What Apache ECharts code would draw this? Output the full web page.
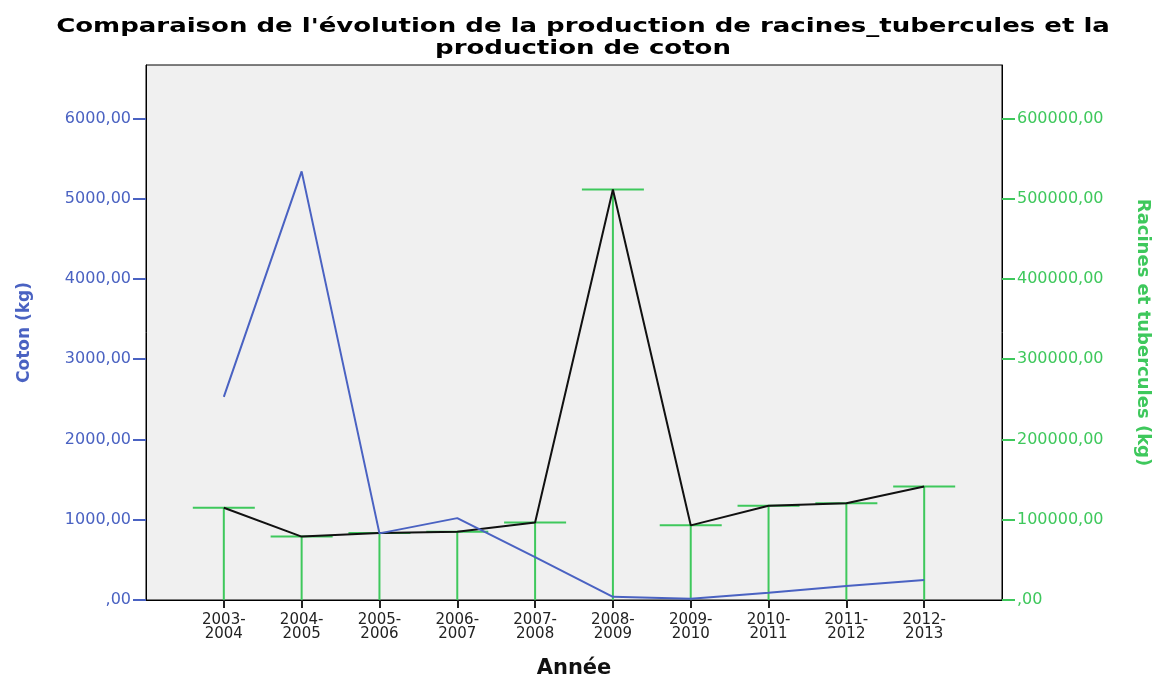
<!DOCTYPE html>
<html>
<head>
<meta charset="utf-8">
<script src="https://cdn.jsdelivr.net/npm/echarts@6/dist/echarts.min.js"></script>
<style>
  html, body { margin: 0; padding: 0; background: #fff; }
  #main { width: 1163px; height: 675px; }
</style>
</head>
<body>
<div id="main"></div>
<script>
// années (campagnes)
var annees = ['2003-\n2004', '2004-\n2005', '2005-\n2006', '2006-\n2007', '2007-\n2008',
              '2008-\n2009', '2009-\n2010', '2010-\n2011', '2011-\n2012', '2012-\n2013'];
// production de coton (kg)
var coton = [2530, 5340, 830, 1020, 535, 40, 15, 90, 175, 250];
// production de racines et tubercules (kg)
var racines = [115000, 79000, 83500, 85000, 96500, 511500, 93000, 117500, 120500, 141500];
// graduations
var ticksCoton = [0, 1000, 2000, 3000, 4000, 5000, 6000];
var ticksRacines = [0, 100000, 200000, 300000, 400000, 500000, 600000];

var bleu = '#4a62c2';
var vert = '#3ec85c';

// une catégorie vide de chaque côté pour laisser la marge du graphique
var cats = [''].concat(annees, ['']);
var dataCoton = [null].concat(coton, [null]);
var dataRacines = [null].concat(racines, [null]);

function fmt(v) {
    return (v === 0 ? '' : v) + ',00';
}

var myChart = echarts.init(document.getElementById('main'));
var option = {
    backgroundColor: '#fff',
    animation: false,
    // titre (étiré horizontalement comme dans l'original)
    graphic: [
        {
            type: 'text',
            x: 583,
            y: 16,
            scaleX: 1.3,
            style: {
                text: "Comparaison de l'évolution de la production de racines_tubercules et la\nproduction de coton",
                fontFamily: 'DejaVu Sans',
                fontWeight: 'bold',
                fontSize: 20,
                lineHeight: 22,
                fill: '#000',
                align: 'center',
                verticalAlign: 'top'
            }
        }
    ],
    grid: {
        left: 146, right: 161, top: 65, bottom: 75,
        outerBoundsMode: 'none',
        containLabel: false,
        show: true,
        backgroundColor: '#f0f0f0',
        borderColor: '#000',
        borderWidth: 1
    },
    xAxis: {
        type: 'category',
        data: cats,
        boundaryGap: false,
        name: 'Année',
        nameLocation: 'middle',
        nameGap: 58,
        nameTextStyle: { fontFamily: 'DejaVu Sans', fontWeight: 'bold', fontSize: 21, color: '#111' },
        axisLine: { lineStyle: { color: '#000', width: 1 } },
        axisTick: {
            length: 8,
            lineStyle: { color: '#222', width: 2 },
            interval: function (i) { return i > 0 && i < cats.length - 1; }
        },
        axisLabel: {
            interval: 0,
            margin: 13,
            color: '#222',
            fontFamily: 'DejaVu Sans',
            fontSize: 15,
            lineHeight: 14
        },
        splitLine: { show: false }
    },
    yAxis: [
        {
            type: 'value',
            min: 0,
            max: 6665,
            position: 'left',
            name: 'Coton (kg)',
            nameLocation: 'middle',
            nameGap: 113,
            nameRotate: 90,
            nameTextStyle: { fontFamily: 'DejaVu Sans', fontWeight: 'bold', fontSize: 17, color: bleu },
            axisLine: { show: true, lineStyle: { color: '#000' } },
            axisTick: { show: true, length: 13, customValues: ticksCoton, lineStyle: { color: bleu, width: 2 } },
            axisLabel: { customValues: ticksCoton, formatter: fmt, color: bleu, fontFamily: 'DejaVu Sans', fontSize: 16, margin: 15 },
            splitLine: { show: false }
        },
        {
            type: 'value',
            min: 0,
            max: 666500,
            position: 'right',
            name: 'Racines et tubercules (kg)',
            nameLocation: 'middle',
            nameGap: 132,
            nameRotate: -90,
            nameTextStyle: { fontFamily: 'DejaVu Sans', fontWeight: 'bold', fontSize: 18, color: vert },
            axisLine: { show: true, lineStyle: { color: '#000' } },
            axisTick: { show: true, length: 13, customValues: ticksRacines, lineStyle: { color: vert, width: 2 } },
            axisLabel: { customValues: ticksRacines, formatter: fmt, color: vert, fontFamily: 'DejaVu Sans', fontSize: 16, margin: 15 },
            splitLine: { show: false }
        }
    ],
    series: [
        {
            // traits verticaux avec barre horizontale (racines)
            name: 'Racines (tiges)',
            type: 'custom',
            yAxisIndex: 1,
            data: dataRacines.map(function (v, i) { return [i, v]; }),
            renderItem: function (params, api) {
                var v = api.value(1);
                if (v == null || isNaN(v)) return;
                var top = api.coord([api.value(0), v]);
                var bas = api.coord([api.value(0), 0]);
                var style = { stroke: vert, lineWidth: 2 };
                return {
                    type: 'group',
                    children: [
                        { type: 'line', shape: { x1: top[0], y1: top[1], x2: bas[0], y2: bas[1] }, style: style },
                        { type: 'line', shape: { x1: top[0] - 31, y1: top[1], x2: top[0] + 31, y2: top[1] }, style: style }
                    ]
                };
            },
            z: 2
        },
        {
            name: 'Racines et tubercules',
            type: 'line',
            yAxisIndex: 1,
            data: dataRacines,
            symbol: 'none',
            lineStyle: { color: '#111', width: 2 },
            z: 3
        },
        {
            name: 'Coton',
            type: 'line',
            yAxisIndex: 0,
            data: dataCoton,
            symbol: 'none',
            lineStyle: { color: bleu, width: 2 },
            z: 4
        }
    ]
};
myChart.setOption(option);
</script>
</body>
</html>
